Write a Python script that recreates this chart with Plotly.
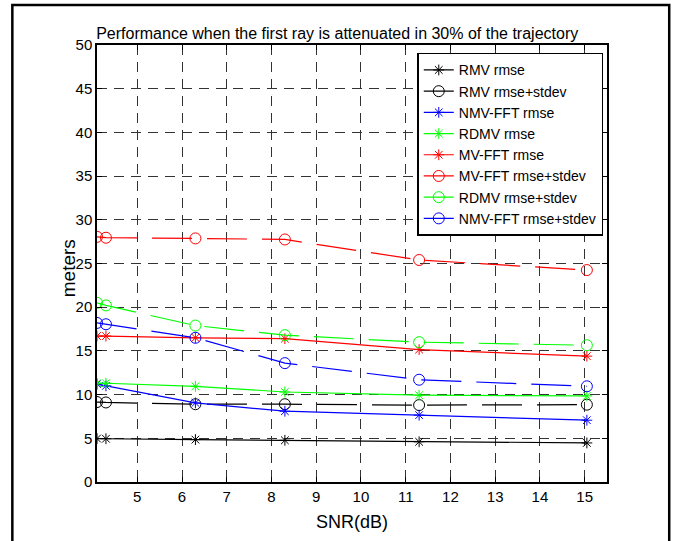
import plotly.graph_objects as go

snr = [4.1, 4.3, 6.3, 8.3, 11.3, 15.05]

rmv_rmse = [4.97, 4.95, 4.85, 4.77, 4.6, 4.47]
rmv_rmse_std = [9.15, 9.1, 8.9, 8.9, 8.8, 8.85]
nmv_rmse = [11.2, 11.0, 9.05, 8.1, 7.65, 7.07]
rdmv_rmse = [11.3, 11.3, 10.95, 10.3, 9.93, 9.85]
mv_rmse = [16.7, 16.7, 16.5, 16.4, 15.15, 14.4]
mv_rmse_std = [28.05, 27.95, 27.87, 27.75, 25.4, 24.25]
rdmv_rmse_std = [20.5, 20.2, 17.9, 16.8, 16.0, 15.65]
nmv_rmse_std = [18.2, 18.05, 16.5, 13.6, 11.7, 10.95]

x_ticks = [5, 6, 7, 8, 9, 10, 11, 12, 13, 14, 15]
y_ticks = [0, 5, 10, 15, 20, 25, 30, 35, 40, 45, 50]

series = [
    ("RMV rmse", rmv_rmse, "black", "asterisk-open", "solid"),
    ("RMV rmse+stdev", rmv_rmse_std, "black", "circle-open", "40px,15px"),
    ("NMV-FFT rmse", nmv_rmse, "blue", "asterisk-open", "solid"),
    ("RDMV rmse", rdmv_rmse, "#00ff00", "asterisk-open", "solid"),
    ("MV-FFT rmse", mv_rmse, "red", "asterisk-open", "solid"),
    ("MV-FFT rmse+stdev", mv_rmse_std, "red", "circle-open", "40px,15px"),
    ("RDMV rmse+stdev", rdmv_rmse_std, "#00ff00", "circle-open", "40px,15px"),
    ("NMV-FFT rmse+stdev", nmv_rmse_std, "blue", "circle-open", "40px,15px"),
]

FONT = "Liberation Sans, Arial, sans-serif"

fig = go.Figure()
for name, ys, col, sym, dash in series:
    fig.add_trace(go.Scatter(
        x=snr, y=ys, name=name, mode="lines+markers",
        line=dict(color=col, width=1.2, dash=dash),
        marker=dict(symbol=sym, size=11 if "circle" in sym else 9,
                    color=col, line=dict(color=col, width=1)),
    ))

axis_common = dict(
    showline=True, linecolor="black", linewidth=1.5, mirror="ticks",
    ticks="inside", ticklen=5, tickcolor="black",
    showgrid=True, gridcolor="#333333", gridwidth=1, griddash="10px,7px",
    zeroline=False, tickfont=dict(family=FONT, size=15, color="black"),
)

fig.update_xaxes(range=[4.1, 15.5], tickvals=x_ticks,
                 title=dict(text="SNR(dB)", font=dict(family=FONT, size=18, color="black"), standoff=12),
                 **axis_common)
fig.update_yaxes(range=[0, 50], tickvals=y_ticks, **axis_common)

fig.update_layout(
    width=676, height=541,
    margin=dict(l=97, r=69, t=45, b=59),
    paper_bgcolor="white", plot_bgcolor="white",
    title=dict(text="Performance when the first ray is attenuated in 30% of the trajectory",
               font=dict(family=FONT, size=16, color="black"),
               x=0.471, xanchor="center", y=0.939, yanchor="middle",
               xref="paper"),
    legend=dict(x=0.628, y=0.982, xanchor="left", yanchor="top",
                bgcolor="white", bordercolor="black", borderwidth=1.5,
                font=dict(family=FONT, size=14, color="black"),
                tracegroupgap=0, itemwidth=30),
    showlegend=True,
    annotations=[dict(text="meters", xref="paper", yref="paper",
                      x=-0.057, y=0.489, xanchor="center", yanchor="middle",
                      textangle=-90, showarrow=False,
                      font=dict(family=FONT, size=19, color="black"))],
    shapes=[dict(type="rect", xref="paper", yref="paper",
                 x0=-0.166, x1=1.122, y0=-0.16, y1=1.0916,
                 line=dict(color="black", width=2.5), fillcolor="rgba(0,0,0,0)",
                 layer="above")],
)

fig.write_html("out.html", post_script="document.body.style.margin='0';",
               config={"displayModeBar": False})
